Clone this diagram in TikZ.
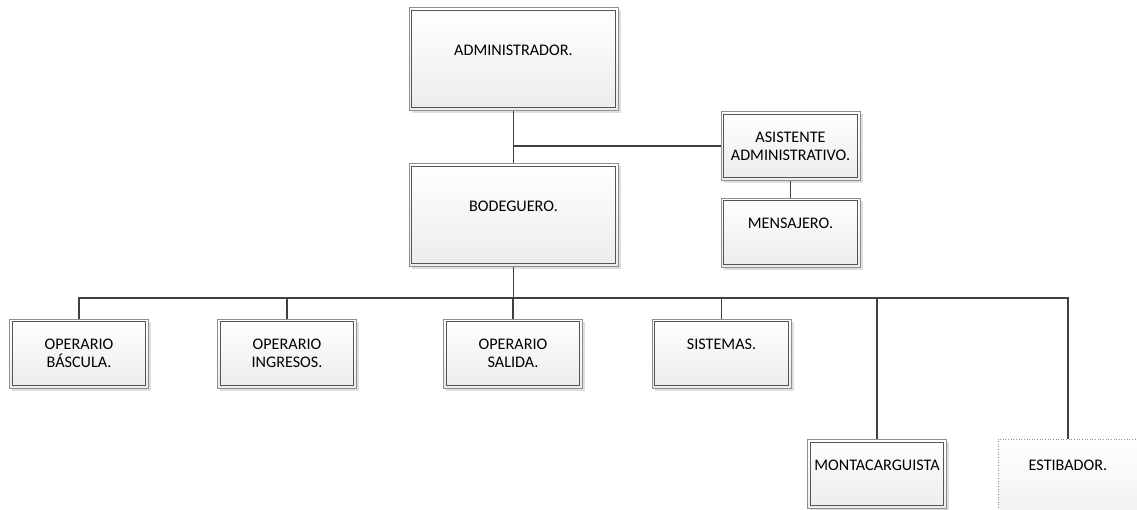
\documentclass[tikz,border=0pt]{standalone}
\usepackage{fontspec}
\setmainfont{Carlito}
\usepackage{tikz}
\usetikzlibrary{positioning,calc,shadows}
\definecolor{linea} {HTML}{404040}
\definecolor{marco} {HTML}{8F8F8F}
\definecolor{borde} {HTML}{555555}
\definecolor{fondo} {HTML}{ECECEC}

\tikzset{
  cargo/.style={draw=marco, line width=0.5pt, top color=white, bottom color=fondo,
    drop shadow={shadow xshift=1.6pt, shadow yshift=-1.6pt, fill=black, opacity=0.13},
    font=\fontsize{9.2}{10.2}\selectfont, align=center, inner sep=1pt},
  grande/.style={cargo, minimum width=4.18cm, minimum height=2.06cm},
  chico/.style={cargo, minimum width=2.78cm, minimum height=1.38cm},
  vacante/.style={draw=marco, densely dotted, line width=0.5pt, top color=white, bottom color=fondo!70,
    font=\fontsize{9.2}{10.2}\selectfont, align=center, inner sep=1pt,
    minimum width=2.8cm, minimum height=1.42cm},
  interior/.style={draw=borde, line width=0.6pt},
  enlace/.style={draw=linea, line width=1.1pt}
}

\begin{document}
\begin{tikzpicture}[x=0.02cm,y=-0.02cm]
  \useasboundingbox (0,0) rectangle (1137,510);

  % direccion
  \node[grande] (admin) at (513.5,59)  {ADMINISTRADOR.\\ \mbox{}};
  \node[grande] (bodeg) at (513.5,215) {BODEGUERO.\\ \mbox{}};
  \node[chico]  (asist) at (790.5,146) {ASISTENTE\\ADMINISTRATIVO.};
  \node[chico]  (mensj) at (790.5,232.5) {MENSAJERO.\\ \mbox{}};

  % operarios
  \node[chico] (bascu) at (79,353.5)    {OPERARIO\\BÁSCULA.};
  \node[chico] (ingre) at (287,353.5)   {OPERARIO\\INGRESOS.};
  \node[chico] (salid) at (513,353.5)   {OPERARIO\\SALIDA.};
  \node[chico] (siste) at (721.5,353.5) {SISTEMAS.\\ \mbox{}};
  \node[chico] (monta) at (877,474)     {MONTACARGUISTA\\ \mbox{}};
  \node[vacante] (estib) at (1068,474.5) {ESTIBADOR.\\ \mbox{}};

  % segundo marco
  \foreach \n in {admin,bodeg,asist,mensj,bascu,ingre,salid,siste,monta}
    \draw[interior] ([shift={(1.8pt,-1.8pt)}]\n.north west) rectangle ([shift={(-1.8pt,1.8pt)}]\n.south east);

  % enlaces
  \draw[enlace] (admin) -- (bodeg);
  \draw[enlace] (admin.south |- asist.west) -- (asist.west);
  \draw[enlace] (asist) -- (mensj);
  \coordinate (bus) at (513.5,298);
  \draw[enlace] (bodeg.south) -- (bus);
  \foreach \n in {bascu,ingre,salid,siste,monta,estib}
    \draw[enlace] (bus) -| (\n.north);
\end{tikzpicture}
\end{document}
